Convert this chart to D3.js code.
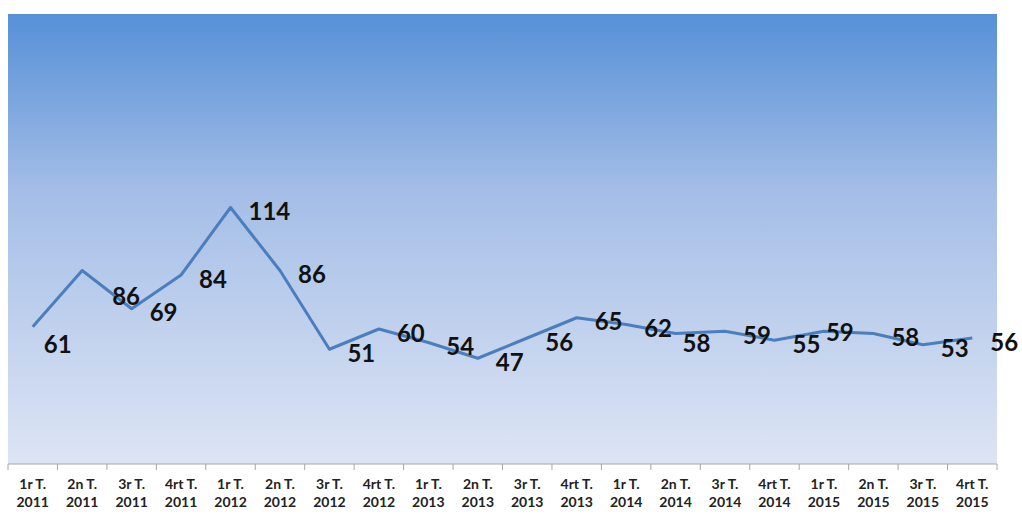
<!DOCTYPE html>
<html lang="ca">
<head>
<meta charset="utf-8"/>
<style>
  body { margin: 0; background: #ffffff; }
  svg { display: block; }
  .lbl { font-family: "Lato", "Liberation Sans", sans-serif; font-weight: 700; font-size: 24px; fill: #111; }
  .tick text { font-family: "Lato", "Liberation Sans", sans-serif; font-weight: 700; font-size: 14px; fill: #222; }
</style>
</head>
<body>
<svg id="chart" width="1022" height="521"></svg>

<script src="https://d3js.org/d3.v7.min.js"></script>
<script>
// trimestres i anys (eix X)
let quarters = ["1r T.","2n T.","3r T.","4rt T.","1r T.","2n T.","3r T.","4rt T.","1r T.","2n T.",
                "3r T.","4rt T.","1r T.","2n T.","3r T.","4rt T.","1r T.","2n T.","3r T.","4rt T."]
let years = ["2011","2011","2011","2011","2012","2012","2012","2012","2013","2013",
             "2013","2013","2014","2014","2014","2014","2015","2015","2015","2015"]
let values = [61, 86, 69, 84, 114, 86, 51, 60, 54, 47, 56, 65, 62, 58, 59, 55, 59, 58, 53, 56]

let svg = d3.select("#chart")
let plotLeft = 8, plotRight = 997, plotTop = 14, plotBottom = 464

let keys = values.map((d, i) => i)
let x = d3.scaleBand().domain(keys).range([plotLeft, plotRight]).padding(0)
let y = d3.scaleLinear().domain([0, 200]).range([plotBottom, plotTop])
let cx = i => x(i) + x.bandwidth() / 2

// background gradient of the plot area
let grad = svg.append("defs").append("linearGradient")
    .attr("id", "bg").attr("x1", 0).attr("y1", 0).attr("x2", 0).attr("y2", 1)
grad.append("stop").attr("offset", "0%").attr("stop-color", "#5690d7")
grad.append("stop").attr("offset", "40%").attr("stop-color", "#a5bee7")
grad.append("stop").attr("offset", "100%").attr("stop-color", "#dde5f4")

svg.append("rect")
    .attr("x", plotLeft).attr("y", plotTop)
    .attr("width", plotRight - plotLeft).attr("height", plotBottom - plotTop)
    .attr("fill", "url(#bg)")

// x axis: ticks between categories, two-line labels
let axis = svg.append("g").attr("class", "x-axis")
axis.append("line")
    .attr("x1", plotLeft).attr("x2", plotRight).attr("y1", plotBottom).attr("y2", plotBottom)
    .attr("stroke", "#a6a6a6").attr("stroke-width", 1)
axis.selectAll("line.tk")
    .data(keys.concat([keys.length]))
    .enter().append("line").attr("class", "tk")
    .attr("x1", i => i < keys.length ? x(i) : plotRight)
    .attr("x2", i => i < keys.length ? x(i) : plotRight)
    .attr("y1", plotBottom).attr("y2", plotBottom + 6)
    .attr("stroke", "#a6a6a6")

let tk = axis.selectAll("g.tick")
    .data(keys)
    .enter().append("g").attr("class", "tick")
    .attr("transform", i => "translate(" + cx(i) + ",0)")
tk.append("text").attr("text-anchor", "middle").attr("y", 489).text(i => quarters[i])
tk.append("text").attr("text-anchor", "middle").attr("y", 507).text(i => years[i])

// line
let line = d3.line().x((d, i) => cx(i)).y(d => y(d))
svg.append("path")
    .datum(values)
    .attr("d", line)
    .attr("fill", "none")
    .attr("stroke", "#4a7ebf")
    .attr("stroke-width", 3)
    .attr("stroke-linejoin", "round")

// data labels, mostly to the right of the point; a few were nudged by hand
let nudge = { 0: [-7, 14], 1: [12, 22], 13: [-11, 6], 16: [-16, -3] }
svg.selectAll("text.lbl")
    .data(values)
    .enter().append("text").attr("class", "lbl")
    .attr("x", (d, i) => cx(i) + 18 + (nudge[i] ? nudge[i][0] : 0))
    .attr("y", (d, i) => y(d) + 3 + (nudge[i] ? nudge[i][1] : 0))
    .attr("dominant-baseline", "central")
    .text(d => d)
</script>
</body>
</html>
